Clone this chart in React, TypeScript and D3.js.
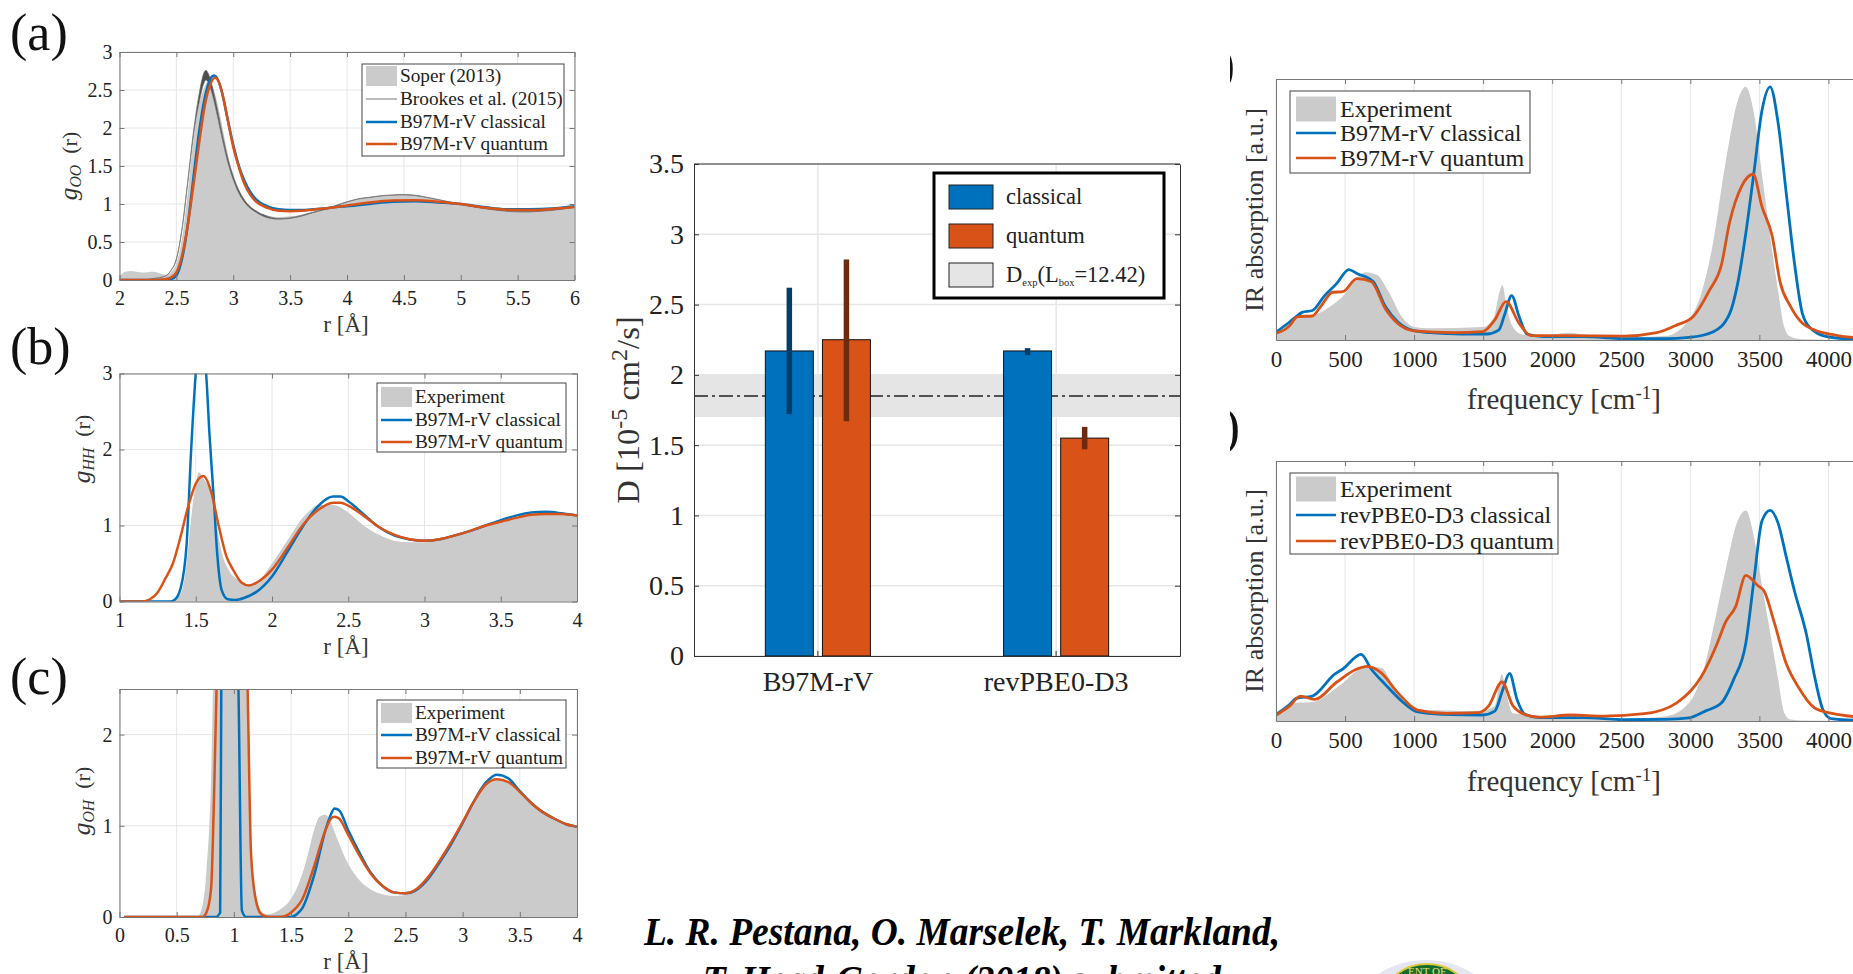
import React, { useEffect, useRef } from 'react';
import * as d3 from 'd3';

const SERIF = '"Liberation Serif", "Times New Roman", serif';
const BLUE = '#0072bd';
const RED = '#d95319';
const FILL = '#cbcbcb';

// (a) g_OO
const ooSoperR = [2, 2.05, 2.1, 2.2, 2.3, 2.4, 2.45, 2.5, 2.55, 2.6, 2.65, 2.7, 2.75, 2.79, 2.83, 2.88, 2.93, 3, 3.05, 3.1, 3.2, 3.3, 3.4, 3.5, 3.6, 3.7, 3.8, 3.9, 4, 4.2, 4.4, 4.5, 4.6, 4.8, 5, 5.2, 5.4, 5.6, 5.8, 6];
const ooSoperG = [0.05, 0.11, 0.12, 0.1, 0.11, 0.07, 0.1, 0.22, 0.55, 1.15, 1.85, 2.3, 2.55, 2.62, 2.5, 2.2, 1.82, 1.36, 1.18, 1.05, 0.91, 0.85, 0.83, 0.84, 0.86, 0.9, 0.94, 0.98, 1.03, 1.09, 1.115, 1.12, 1.11, 1.06, 1, 0.945, 0.91, 0.9, 0.92, 0.95];
const ooBrookesR = [2, 2.2, 2.3, 2.4, 2.45, 2.5, 2.55, 2.6, 2.65, 2.7, 2.74, 2.76, 2.78, 2.82, 2.86, 2.9, 2.95, 3, 3.05, 3.1, 3.2, 3.3, 3.4, 3.5, 3.6, 3.7, 3.8, 3.9, 4, 4.1, 4.2, 4.3, 4.4, 4.5, 4.6, 4.7, 4.8, 4.9, 5, 5.1, 5.2, 5.3, 5.4, 5.5, 5.6, 5.7, 5.8, 5.9, 6];
const ooBrookesG = [0, 0, 0.02, 0.05, 0.12, 0.28, 0.68, 1.3, 1.95, 2.45, 2.72, 2.76, 2.72, 2.52, 2.25, 1.95, 1.62, 1.37, 1.18, 1.05, 0.91, 0.84, 0.81, 0.82, 0.85, 0.89, 0.93, 0.98, 1.03, 1.07, 1.09, 1.11, 1.12, 1.125, 1.115, 1.09, 1.06, 1.03, 1, 0.97, 0.945, 0.925, 0.91, 0.9, 0.9, 0.91, 0.92, 0.94, 0.96];
const ooBrookesLow = [0, 0, 0.02, 0.05, 0.12, 0.27, 0.67, 1.28, 1.9, 2.33, 2.58, 2.63, 2.6, 2.42, 2.16, 1.88, 1.56, 1.32, 1.14, 1.02, 0.89, 0.82, 0.8, 0.81, 0.84, 0.885, 0.925, 0.975, 1.025, 1.065, 1.085, 1.105, 1.115, 1.12, 1.11, 1.085, 1.055, 1.025, 0.995, 0.965, 0.94, 0.92, 0.905, 0.895, 0.895, 0.905, 0.915, 0.935, 0.955];
const ooClassicalR = [2, 2.4, 2.45, 2.5, 2.55, 2.6, 2.65, 2.7, 2.75, 2.8, 2.83, 2.87, 2.9, 2.95, 3, 3.05, 3.1, 3.15, 3.2, 3.3, 3.4, 3.5, 3.6, 3.7, 3.8, 3.9, 4, 4.2, 4.4, 4.6, 4.8, 5, 5.2, 5.4, 5.6, 5.8, 6];
const ooClassicalG = [0, 0, 0.01, 0.06, 0.28, 0.72, 1.35, 1.95, 2.4, 2.65, 2.69, 2.62, 2.47, 2.12, 1.78, 1.5, 1.3, 1.16, 1.06, 0.97, 0.93, 0.92, 0.92, 0.93, 0.94, 0.96, 0.97, 1, 1.03, 1.035, 1.02, 1, 0.96, 0.93, 0.93, 0.94, 0.97];
const ooQuantumR = [2, 2.3, 2.4, 2.45, 2.5, 2.55, 2.6, 2.65, 2.7, 2.75, 2.8, 2.84, 2.88, 2.92, 2.95, 3, 3.05, 3.1, 3.15, 3.2, 3.3, 3.4, 3.5, 3.6, 3.7, 3.8, 4, 4.2, 4.4, 4.6, 4.8, 5, 5.2, 5.4, 5.6, 5.8, 6];
const ooQuantumG = [0, 0, 0.01, 0.03, 0.1, 0.32, 0.72, 1.25, 1.8, 2.3, 2.58, 2.66, 2.58, 2.35, 2.12, 1.75, 1.48, 1.26, 1.12, 1.03, 0.95, 0.91, 0.905, 0.91, 0.925, 0.94, 0.98, 1.02, 1.045, 1.05, 1.03, 1, 0.955, 0.925, 0.92, 0.935, 0.96];

// (b) g_HH
const hhExpR = [1, 1.3, 1.35, 1.4, 1.44, 1.47, 1.5, 1.52, 1.55, 1.6, 1.63, 1.67, 1.72, 1.78, 1.85, 1.9, 2, 2.1, 2.2, 2.25, 2.3, 2.4, 2.5, 2.6, 2.7, 2.8, 2.9, 3, 3.1, 3.2, 3.3, 3.4, 3.5, 3.6, 3.7, 3.8, 3.9, 4];
const hhExpG = [0, 0, 0.02, 0.1, 0.5, 1.1, 1.55, 1.7, 1.62, 1.42, 1.1, 0.65, 0.4, 0.28, 0.22, 0.25, 0.5, 0.8, 1.1, 1.2, 1.27, 1.27, 1.17, 1, 0.88, 0.8, 0.78, 0.78, 0.82, 0.88, 0.93, 1, 1.05, 1.1, 1.13, 1.15, 1.15, 1.13];
const hhClassicalR = [1, 1.33, 1.36, 1.4, 1.44, 1.47, 1.5, 1.53, 1.568, 1.59, 1.62, 1.64, 1.67, 1.71, 1.76, 1.82, 1.9, 2, 2.1, 2.2, 2.3, 2.4, 2.45, 2.5, 2.6, 2.7, 2.8, 2.9, 3, 3.1, 3.2, 3.3, 3.4, 3.5, 3.6, 3.7, 3.8, 3.9, 4];
const hhClassicalG = [0, 0, 0.02, 0.17, 0.75, 2, 3, 3.5, 3, 2.2, 1.3, 0.65, 0.15, 0.03, 0.02, 0.05, 0.13, 0.33, 0.65, 0.98, 1.25, 1.38, 1.38, 1.32, 1.15, 0.98, 0.87, 0.82, 0.8, 0.82, 0.87, 0.93, 1, 1.07, 1.13, 1.17, 1.18, 1.16, 1.13];
const hhQuantumR = [1, 1.15, 1.2, 1.25, 1.3, 1.35, 1.4, 1.45, 1.5, 1.55, 1.6, 1.65, 1.7, 1.75, 1.8, 1.85, 1.9, 2, 2.1, 2.2, 2.3, 2.4, 2.45, 2.5, 2.6, 2.7, 2.8, 2.9, 3, 3.1, 3.2, 3.3, 3.4, 3.5, 3.6, 3.7, 3.8, 3.9, 4];
const hhQuantumG = [0, 0, 0.03, 0.12, 0.3, 0.5, 0.85, 1.25, 1.55, 1.65, 1.45, 1, 0.6, 0.4, 0.25, 0.21, 0.25, 0.42, 0.7, 1, 1.2, 1.3, 1.3, 1.26, 1.13, 0.98, 0.88, 0.82, 0.8, 0.82, 0.87, 0.93, 1, 1.05, 1.1, 1.14, 1.15, 1.15, 1.13];

// (c) g_OH
const ohExpR = [0.04, 0.68, 0.72, 0.76, 0.8, 0.82, 0.9, 1, 1.1, 1.15, 1.2, 1.25, 1.3, 1.4, 1.5, 1.6, 1.65, 1.7, 1.75, 1.8, 1.85, 1.9, 2, 2.1, 2.2, 2.3, 2.4, 2.5, 2.6, 2.7, 2.8, 2.9, 3, 3.1, 3.2, 3.3, 3.4, 3.5, 3.6, 3.7, 3.8, 3.9, 4];
const ohExpG = [0, 0, 0.1, 0.5, 1.5, 2.6, 4, 5, 3, 0.8, 0.2, 0.05, 0.03, 0.08, 0.2, 0.48, 0.7, 0.95, 1.1, 1.12, 1.03, 0.87, 0.58, 0.4, 0.3, 0.25, 0.23, 0.24, 0.31, 0.45, 0.62, 0.82, 1.05, 1.28, 1.45, 1.5, 1.47, 1.35, 1.25, 1.14, 1.07, 1.02, 0.98];
const ohClassicalR = [0.04, 0.84, 0.88, 0.89, 0.9, 1, 1.02, 1.04, 1.07, 1.11, 1.5, 1.55, 1.6, 1.7, 1.8, 1.85, 1.88, 1.92, 2, 2.1, 2.2, 2.3, 2.4, 2.5, 2.6, 2.7, 2.8, 2.9, 3, 3.1, 3.2, 3.3, 3.4, 3.5, 3.6, 3.7, 3.8, 3.9, 4];
const ohClassicalG = [0, 0, 0.05, 2.5, 3.5, 5, 3.5, 2.5, 0.07, 0, 0, 0.03, 0.1, 0.45, 0.95, 1.13, 1.19, 1.17, 0.95, 0.7, 0.48, 0.34, 0.27, 0.26, 0.3, 0.42, 0.6, 0.8, 1.03, 1.27, 1.47, 1.56, 1.52, 1.38, 1.25, 1.15, 1.08, 1.02, 0.99];
const ohQuantumR = [0.04, 0.72, 0.76, 0.8, 0.83, 0.85, 0.9, 1.1, 1.12, 1.15, 1.19, 1.24, 1.3, 1.4, 1.5, 1.6, 1.7, 1.8, 1.85, 1.88, 1.92, 2, 2.1, 2.2, 2.3, 2.4, 2.5, 2.6, 2.7, 2.8, 2.9, 3, 3.1, 3.2, 3.3, 3.4, 3.5, 3.6, 3.7, 3.8, 3.9, 4];
const ohQuantumG = [0, 0, 0.05, 0.3, 1.5, 2.6, 4, 3.5, 2.5, 0.7, 0.2, 0.03, 0, 0, 0.05, 0.2, 0.55, 0.95, 1.08, 1.1, 1.08, 0.9, 0.67, 0.47, 0.34, 0.27, 0.26, 0.31, 0.44, 0.62, 0.82, 1.04, 1.27, 1.45, 1.51, 1.48, 1.37, 1.25, 1.15, 1.08, 1.02, 0.99];

// diffusion bars
const barCategories = ['B97M-rV', 'revPBE0-D3'];
const barSeries = ['classical', 'quantum'];
const barClassical = [2.17, 2.17];
const barQuantum = [2.25, 1.55];
const barClassicalErr = [[1.72, 2.62], [2.14, 2.19]];
const barQuantumErr = [[1.67, 2.82], [1.47, 1.63]];
const dExpBand = [1.7, 2.0];
const dExp = 1.85;

// IR spectra (a.u.)
const ir1ExpF = [0, 50, 100, 175, 300, 470, 650, 730, 820, 910, 1000, 1110, 1500, 1580, 1610, 1640, 1670, 1715, 1790, 1935, 2110, 2290, 2520, 2815, 2990, 3080, 3155, 3255, 3345, 3400, 3460, 3520, 3575, 3635, 3680, 3725, 3810, 4200];
const ir1ExpA = [2, 4, 7, 8.3, 10, 16, 26, 25, 18, 9, 5, 4.5, 5, 9, 16.6, 21, 12.8, 5, 2, 1.5, 2.8, 1.7, 1, 1.5, 7.7, 18, 34.5, 68, 92, 97, 87, 63, 41, 19, 5, 1.3, 0.3, 0];
const ir1ClassicalF = [0, 100, 146, 190, 264, 352, 440, 528, 586, 703, 792, 880, 997, 1114, 1349, 1525, 1613, 1657, 1706, 1760, 1818, 1935, 2229, 2522, 2815, 2991, 3167, 3284, 3343, 3402, 3460, 3519, 3578, 3636, 3695, 3754, 3812, 3871, 3988, 4187, 4500];
const ir1ClassicalA = [3, 7, 9, 10.6, 11.3, 17, 21.7, 27, 25.5, 22.4, 12.8, 7, 3.6, 2.8, 2.3, 2.3, 3.8, 10, 17, 9, 2.3, 1.3, 1.3, 0.5, 0.5, 1, 3.2, 10, 21.7, 41, 64, 88, 97, 83, 56, 29.4, 10, 4.5, 1.3, 0.3, 0.2];
const ir1QuantumF = [0, 100, 146, 176, 264, 323, 411, 484, 586, 689, 792, 880, 997, 1290, 1496, 1584, 1665, 1760, 1848, 2111, 2522, 2757, 2904, 3021, 3138, 3226, 3284, 3372, 3455, 3519, 3592, 3651, 3724, 3812, 3900, 4047, 4187, 4500];
const ir1QuantumA = [2.6, 5.5, 8.6, 9, 9.2, 12.8, 18.3, 18.5, 23.5, 22.4, 12, 6.4, 3.5, 2.8, 3.2, 7.7, 14.7, 6.4, 1.7, 1.7, 1.5, 2.8, 5.8, 9, 19, 29, 45, 59, 63.5, 51, 40, 22, 13, 6.4, 3.8, 1.9, 1, 0.5];

const ir2ExpF = [0, 60, 146, 264, 470, 645, 762, 850, 997, 1466, 1584, 1635, 1670, 1715, 1818, 1935, 2520, 2815, 2991, 3108, 3167, 3255, 3343, 3402, 3460, 3519, 3578, 3636, 3680, 3725, 3810, 4200];
const ir2ExpA = [2, 3.5, 7, 7.3, 14, 21, 20.5, 13.4, 4.5, 3.8, 5.8, 18, 10, 3, 2.5, 1.3, 0.9, 1.7, 7, 22, 36, 58, 77, 81, 71, 52, 34, 16, 3.2, 0.6, 0.2, 0];
const ir2ClassicalF = [0, 100, 146, 264, 425, 484, 616, 689, 792, 909, 1026, 1202, 1496, 1584, 1642, 1691, 1745, 1803, 1906, 2229, 2522, 2815, 2991, 3108, 3226, 3314, 3402, 3460, 3519, 3578, 3636, 3695, 3754, 3842, 3900, 3959, 4018, 4187, 4500];
const ir2ClassicalA = [2.5, 6.4, 8.7, 9.6, 18, 20, 25.6, 20, 14, 7.7, 3.5, 2.6, 2.3, 3.8, 12, 18.3, 8.3, 2.6, 1.3, 1.3, 0.5, 0.6, 1.2, 3.8, 7, 16, 30, 54, 77, 81, 76, 63, 50, 33, 17, 4.5, 0.9, 0.3, 0.2];
const ir2QuantumF = [0, 100, 176, 279, 440, 586, 660, 762, 880, 1026, 1232, 1466, 1540, 1636, 1716, 1818, 1906, 2140, 2375, 2668, 2902, 3079, 3196, 3255, 3328, 3402, 3490, 3534, 3607, 3695, 3783, 3900, 4018, 4187, 4500];
const ir2QuantumA = [2.2, 5.8, 9.6, 8.3, 15, 20, 21, 18.5, 11, 4.2, 2.9, 3.2, 5.8, 15, 5.8, 2.2, 1.5, 2.3, 1.9, 2.8, 7, 17, 30, 38, 44, 56, 52, 50, 38, 22, 13, 5, 3, 1.7, 1];

type Curve = { x: number[]; y: number[]; color: string; width: number };
type Box = { left: number; right: number; top: number; bottom: number };
type LegendRow = { label: React.ReactNode; kind: 'fill' | 'line'; color: string; width?: number };
type LegendDef = Box & { swatch: [number, number]; textX: number; rows: number[]; items: LegendRow[]; fontSize: number };

const zip = (x: number[], y: number[]) => x.map((v, i) => [v, y[i]] as [number, number]);

function Legend({ def }: { def: LegendDef }) {
  return (
    <g fontSize={def.fontSize}>
      <rect x={def.left} y={def.top} width={def.right - def.left} height={def.bottom - def.top} fill="#fff" stroke="#444" strokeWidth={1} />
      {def.items.map((it, i) => (
        <g key={i}>
          {it.kind === 'fill'
            ? <rect x={def.swatch[0]} y={def.rows[i] - def.fontSize * 0.52} width={def.swatch[1] - def.swatch[0]} height={def.fontSize * 1.04} fill={it.color} />
            : <line x1={def.swatch[0]} x2={def.swatch[1]} y1={def.rows[i]} y2={def.rows[i]} stroke={it.color} strokeWidth={it.width ?? 2.5} />}
          <text x={def.textX} y={def.rows[i]} dy="0.33em" fill="#222">{it.label}</text>
        </g>
      ))}
    </g>
  );
}

// a MATLAB style axes box: grid, ticks inside on all four sides
function Frame({ box, x, y, xTicks, yTicks, fontSize, color = '#777', pad = 7, yPad = 7 }: any) {
  const ref = useRef<SVGGElement>(null);
  useEffect(() => {
    const g = d3.select(ref.current);
    g.selectAll('*').remove();
    const fmt = (d: any) => String(d);
    const bottom = g.append('g').attr('transform', `translate(0,${box.bottom})`)
      .call(d3.axisBottom(x).tickValues(xTicks).tickFormat(fmt).tickSizeInner(-5).tickSizeOuter(0).tickPadding(pad));
    const left = g.append('g').attr('transform', `translate(${box.left},0)`)
      .call(d3.axisLeft(y).tickValues(yTicks).tickFormat(fmt).tickSizeInner(-5).tickSizeOuter(0).tickPadding(yPad));
    const top = g.append('g').attr('transform', `translate(0,${box.top})`)
      .call(d3.axisTop(x).tickValues(xTicks).tickFormat(() => '').tickSizeInner(-5).tickSizeOuter(0));
    const right = g.append('g').attr('transform', `translate(${box.right},0)`)
      .call(d3.axisRight(y).tickValues(yTicks).tickFormat(() => '').tickSizeInner(-5).tickSizeOuter(0));
    [bottom, left, top, right].forEach(a => {
      a.selectAll('.domain').attr('stroke', color);
      a.selectAll('.tick line').attr('stroke', color);
      a.selectAll('text').attr('fill', '#222').attr('font-size', fontSize).attr('font-family', SERIF);
    });
  }, []);
  return <g ref={ref} />;
}

function Grid({ box, x, y, xTicks, yTicks }: any) {
  return (
    <g stroke="#e6e6e6" strokeWidth={1}>
      {xTicks.map((t: number) => <line key={'x' + t} x1={x(t)} x2={x(t)} y1={box.top} y2={box.bottom} />)}
      {yTicks.map((t: number) => <line key={'y' + t} x1={box.left} x2={box.right} y1={y(t)} y2={y(t)} />)}
    </g>
  );
}

function Spectrum({ id, box, xDomain, yDomain, xTicks, yTicks, fill, lines, fontSize, pad, band }: any) {
  const x = d3.scaleLinear().domain(xDomain).range([box.left, box.right]);
  const y = d3.scaleLinear().domain(yDomain).range([box.bottom, box.top]);
  const line = d3.line<[number, number]>().x(d => x(d[0])).y(d => y(d[1])).curve(d3.curveMonotoneX);
  const area = d3.area<[number, number]>().x(d => x(d[0])).y0(box.bottom).y1(d => y(d[1])).curve(d3.curveMonotoneX);
  let bandPath = '';
  if (band) {
    bandPath = d3.area<number>()
      .x(r => x(r))
      .y0((_, i) => y(band.low[i]))
      .y1((_, i) => y(band.high[i]))
      .curve(d3.curveMonotoneX)(band.x) ?? '';
  }
  return (
    <g>
      <clipPath id={id}><rect x={box.left} y={box.top} width={box.right - box.left} height={box.bottom - box.top} /></clipPath>
      <Grid box={box} x={x} y={y} xTicks={xTicks} yTicks={yTicks} />
      <g clipPath={`url(#${id})`}>
        <path d={area(zip(fill[0], fill[1])) ?? ''} fill={FILL} />
        {band && <path d={bandPath} fill="#4d4d4d" stroke="#777" strokeWidth={0.7} />}
        {lines.map((c: Curve, i: number) => (
          <path key={i} d={line(zip(c.x, c.y)) ?? ''} fill="none" stroke={c.color} strokeWidth={c.width} />
        ))}
      </g>
      <Frame box={box} x={x} y={y} xTicks={xTicks} yTicks={yTicks} fontSize={fontSize} pad={pad} />
    </g>
  );
}

const gLabel = (sub: string, x: number, y: number, size: number) => (
  <text transform={`translate(${x},${y}) rotate(-90)`} textAnchor="middle" fontSize={size} fill="#333">
    <tspan fontStyle="italic" fontSize={size * 1.15}>g</tspan>
    <tspan fontStyle="italic" fontSize={size * 0.72} dy={4}>{sub}</tspan>
    <tspan dy={-4}>{'\u00a0\u00a0(r)'}</tspan>
  </text>
);

const rLabel = (x: number, y: number) => (
  <text x={x} y={y} textAnchor="middle" fontSize={23} fill="#333">r [Å]</text>
);

const freqLabel = (x: number, y: number) => (
  <text x={x} y={y} textAnchor="middle" fontSize={29} fill="#333">
    frequency [cm<tspan dy={-10} fontSize={19}>-1</tspan><tspan dy={10}>]</tspan>
  </text>
);

function BarPanel() {
  const box = { left: 694, right: 1180, top: 164, bottom: 656 };
  const y = d3.scaleLinear().domain([0, 3.5]).range([box.bottom, box.top]);
  const x0 = d3.scaleBand().domain(barCategories).range([box.left, box.right]).paddingInner(0).paddingOuter(0.02);
  const span = x0.step() * 0.441;
  const x1 = d3.scaleBand().domain(barSeries).range([-span / 2, span / 2]).paddingInner(0.16);
  const center = (c: string) => (x0(c) ?? 0) + x0.bandwidth() / 2;
  const yTicks = [0, 0.5, 1, 1.5, 2, 2.5, 3, 3.5];
  const xAxisRef = useRef<SVGGElement>(null);
  const yAxisRef = useRef<SVGGElement>(null);
  const yRightRef = useRef<SVGGElement>(null);

  useEffect(() => {
    const fix = (g: any) => {
      g.selectAll('.domain').attr('stroke', '#333');
      g.selectAll('.tick line').attr('stroke', '#333');
      g.selectAll('text').attr('fill', '#222').attr('font-size', 28).attr('font-family', SERIF);
    };
    d3.select(yAxisRef.current)
      .call(d3.axisLeft(y).tickValues(yTicks).tickFormat((d: any) => String(d)).tickSizeInner(-5).tickSizeOuter(0).tickPadding(10) as any)
      .call(fix);
    d3.select(yRightRef.current)
      .call(d3.axisRight(y).tickValues(yTicks).tickFormat(() => '').tickSizeInner(-5).tickSizeOuter(0) as any)
      .call(fix);
    d3.select(xAxisRef.current)
      .call(d3.axisBottom(x0).tickSizeInner(-5).tickSizeOuter(0).tickPadding(15) as any)
      .call(fix);
  }, []);

  const series = [
    { name: barSeries[0], vals: barClassical, errs: barClassicalErr, color: BLUE, err: '#003e69' },
    { name: barSeries[1], vals: barQuantum, errs: barQuantumErr, color: RED, err: '#6e2a0c' },
  ];

  const rows = [197, 236, 275];
  const items = [
    { label: <>classical</>, color: BLUE },
    { label: <>quantum</>, color: RED },
    { label: <>D<tspan fontSize={10.5} dy={4}>exp</tspan><tspan dy={-4}>(L</tspan><tspan fontSize={10.5} dy={4}>box</tspan><tspan dy={-4}>=12.42)</tspan></>, color: '#e5e5e5' },
  ];

  return (
    <g>
      <g stroke="#e6e6e6" strokeWidth={1.5}>
        {yTicks.map(t => <line key={t} x1={box.left} x2={box.right} y1={y(t)} y2={y(t)} />)}
        {barCategories.map(c => <line key={c} x1={center(c)} x2={center(c)} y1={box.top} y2={box.bottom} />)}
      </g>
      <rect x={box.left} width={box.right - box.left} y={y(dExpBand[1])} height={y(dExpBand[0]) - y(dExpBand[1])} fill="#e5e5e5" />
      <line x1={box.left} x2={box.right} y1={y(dExp)} y2={y(dExp)} stroke="#222" strokeWidth={1.6} strokeDasharray="14 4 3 4" />
      {series.map(s => barCategories.map((c, i) => {
        const cx = center(c) + (x1(s.name) ?? 0);
        return (
          <g key={s.name + c}>
            <rect x={cx} width={x1.bandwidth()} y={y(s.vals[i])} height={box.bottom - y(s.vals[i])} fill={s.color} stroke="#111" strokeWidth={1} />
            <line x1={cx + x1.bandwidth() / 2} x2={cx + x1.bandwidth() / 2} y1={y(s.errs[i][0])} y2={y(s.errs[i][1])} stroke={s.err} strokeWidth={5.5} />
          </g>
        );
      }))}
      <g ref={yAxisRef} transform={`translate(${box.left},0)`} />
      <g ref={yRightRef} transform={`translate(${box.right},0)`} />
      <g ref={xAxisRef} transform={`translate(0,${box.bottom})`} />
      <line x1={box.left} x2={box.right} y1={box.top} y2={box.top} stroke="#333" />
      <g fontSize={22.5}>
        <rect x={934} y={173} width={230} height={125} fill="#fff" stroke="#000" strokeWidth={3} />
        {items.map((it, i) => (
          <g key={i}>
            <rect x={949} y={rows[i] - 12} width={44} height={24} fill={it.color} stroke="#222" strokeWidth={1} />
            <text x={1006} y={rows[i]} dy="0.33em" fill="#222">{it.label}</text>
          </g>
        ))}
      </g>
      <text transform="translate(639,410) rotate(-90)" textAnchor="middle" fontSize={32.5} fill="#333">
        D [10<tspan dy={-12} fontSize={24}>-5</tspan><tspan dy={12}> cm</tspan><tspan dy={-12} fontSize={24}>2</tspan><tspan dy={12}>/s]</tspan>
      </text>
    </g>
  );
}

export default function App() {
  const boxA = { left: 119.5, right: 574.5, top: 52, bottom: 280 };
  const boxB = { left: 119.5, right: 577, top: 373.5, bottom: 601.5 };
  const boxC = { left: 119.5, right: 577, top: 689, bottom: 917 };
  const boxD = { left: 1276, right: 1897.5, top: 79, bottom: 340 };
  const boxE = { left: 1276, right: 1897.5, top: 461, bottom: 721 };
  const irTicks = [0, 500, 1000, 1500, 2000, 2500, 3000, 3500, 4000];

  const legA: LegendDef = {
    left: 362, right: 564, top: 64, bottom: 156, swatch: [366, 397], textX: 400, rows: [76, 99, 122, 144], fontSize: 19.3,
    items: [
      { label: 'Soper (2013)', kind: 'fill', color: FILL },
      { label: 'Brookes et al. (2015)', kind: 'line', color: '#777', width: 1 },
      { label: 'B97M-rV classical', kind: 'line', color: BLUE },
      { label: 'B97M-rV quantum', kind: 'line', color: RED },
    ],
  };
  const legB: LegendDef = {
    left: 377, right: 566, top: 383, bottom: 452, swatch: [381, 412], textX: 415, rows: [397, 420, 442], fontSize: 19.3,
    items: [
      { label: 'Experiment', kind: 'fill', color: FILL },
      { label: 'B97M-rV classical', kind: 'line', color: BLUE },
      { label: 'B97M-rV quantum', kind: 'line', color: RED },
    ],
  };
  const legC: LegendDef = { ...legB, top: 700, bottom: 768, rows: [713, 735, 758] };
  const legD: LegendDef = {
    left: 1290, right: 1530, top: 91, bottom: 173, swatch: [1296, 1336], textX: 1340, rows: [109, 133, 158], fontSize: 24,
    items: [
      { label: 'Experiment', kind: 'fill', color: FILL },
      { label: 'B97M-rV classical', kind: 'line', color: BLUE },
      { label: 'B97M-rV quantum', kind: 'line', color: RED },
    ],
  };
  const legE: LegendDef = {
    left: 1290, right: 1558, top: 473, bottom: 554, swatch: [1296, 1336], textX: 1340, rows: [489, 515, 541], fontSize: 24,
    items: [
      { label: 'Experiment', kind: 'fill', color: FILL },
      { label: 'revPBE0-D3 classical', kind: 'line', color: BLUE },
      { label: 'revPBE0-D3 quantum', kind: 'line', color: RED },
    ],
  };

  return (
    <svg width={1853} height={974} viewBox="0 0 1853 974" style={{ position: 'absolute', left: 0, top: 0, background: '#fff' }} fontFamily={SERIF}>
      <defs>
        <clipPath id="parens"><rect x={1230} y={40} width={30} height={420} /></clipPath>
      </defs>

      <text x={10} y={50} fontSize={52} fill="#111">(a)</text>
      <text x={10} y={364} fontSize={52} fill="#111">(b)</text>
      <text x={10} y={694} fontSize={52} fill="#111">(c)</text>
      <g clipPath="url(#parens)" fontSize={52} fill="#111">
        <text x={1235} y={82} textAnchor="end">(d)</text>
        <text x={1240} y={444} textAnchor="end">(e)</text>
      </g>

      <Spectrum id="clipA" box={boxA} xDomain={[2, 6]} yDomain={[0, 3]} xTicks={[2, 2.5, 3, 3.5, 4, 4.5, 5, 5.5, 6]} yTicks={[0, 0.5, 1, 1.5, 2, 2.5, 3]} fontSize={20} pad={11}
        fill={[ooSoperR, ooSoperG]}
        band={{ x: ooBrookesR, low: ooBrookesLow, high: ooBrookesG }}
        lines={[
          { x: ooClassicalR, y: ooClassicalG, color: BLUE, width: 2.5 },
          { x: ooQuantumR, y: ooQuantumG, color: RED, width: 2.5 },
        ]} />
      <Legend def={legA} />
      {gLabel('OO', 77, 166, 22)}
      {rLabel(346, 332)}

      <Spectrum id="clipB" box={boxB} xDomain={[1, 4]} yDomain={[0, 3]} xTicks={[1, 1.5, 2, 2.5, 3, 3.5, 4]} yTicks={[0, 1, 2, 3]} fontSize={20} pad={11}
        fill={[hhExpR, hhExpG]}
        lines={[
          { x: hhClassicalR, y: hhClassicalG, color: BLUE, width: 2.5 },
          { x: hhQuantumR, y: hhQuantumG, color: RED, width: 2.5 },
        ]} />
      <Legend def={legB} />
      {gLabel('HH', 90, 449, 22)}
      {rLabel(346, 654)}

      <Spectrum id="clipC" box={boxC} xDomain={[0, 4]} yDomain={[0, 2.5]} xTicks={[0, 0.5, 1, 1.5, 2, 2.5, 3, 3.5, 4]} yTicks={[0, 1, 2]} fontSize={20} pad={11}
        fill={[ohExpR, ohExpG]}
        lines={[
          { x: ohClassicalR, y: ohClassicalG, color: BLUE, width: 2.5 },
          { x: ohQuantumR, y: ohQuantumG, color: RED, width: 2.5 },
        ]} />
      <Legend def={legC} />
      {gLabel('OH', 90, 801, 22)}
      {rLabel(346, 969)}

      <BarPanel />

      <Spectrum id="clipD" box={boxD} xDomain={[0, 4500]} yDomain={[0, 100]} xTicks={irTicks} yTicks={[]} fontSize={23} pad={11}
        fill={[ir1ExpF, ir1ExpA]}
        lines={[
          { x: ir1ClassicalF, y: ir1ClassicalA, color: BLUE, width: 2.8 },
          { x: ir1QuantumF, y: ir1QuantumA, color: RED, width: 2.8 },
        ]} />
      <Legend def={legD} />
      <text transform="translate(1263,210) rotate(-90)" textAnchor="middle" fontSize={26} fill="#333">IR absorption [a.u.]</text>
      {freqLabel(1564, 409)}

      <Spectrum id="clipE" box={boxE} xDomain={[0, 4500]} yDomain={[0, 100]} xTicks={irTicks} yTicks={[]} fontSize={23} pad={11}
        fill={[ir2ExpF, ir2ExpA]}
        lines={[
          { x: ir2ClassicalF, y: ir2ClassicalA, color: BLUE, width: 2.8 },
          { x: ir2QuantumF, y: ir2QuantumA, color: RED, width: 2.8 },
        ]} />
      <Legend def={legE} />
      <text transform="translate(1263,591) rotate(-90)" textAnchor="middle" fontSize={26} fill="#333">IR absorption [a.u.]</text>
      {freqLabel(1564, 791)}

      <g fontWeight="bold" fontStyle="italic" fontSize={40} fill="#000" textAnchor="middle">
        <text x={962} y={945} textLength={636} lengthAdjust="spacingAndGlyphs">L. R. Pestana, O. Marselek, T. Markland,</text>
        <text x={962} y={993} textLength={518} lengthAdjust="spacingAndGlyphs">T. Head-Gordon (2018) submitted</text>
      </g>
      <ellipse cx={1426} cy={1043} rx={86} ry={83} fill="#e6e6f0" />
      <circle cx={1427} cy={1014} r={50} fill="#146b2c" stroke="#d8c93a" strokeWidth={2} />
      <text x={1427} y={975} textAnchor="middle" fontSize={11} fill="#e8e070">ENT OF</text>
    </svg>
  );
}
